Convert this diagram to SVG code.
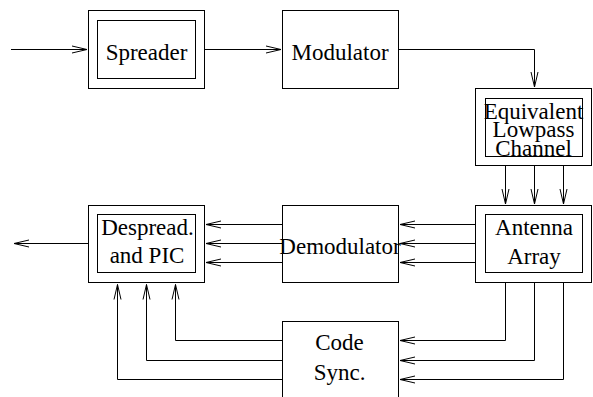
<svg xmlns="http://www.w3.org/2000/svg" width="593" height="397" viewBox="0 0 593 397">
<defs>
<style>
.box{fill:#fff;stroke:#000;stroke-width:1}
.lbl{font-family:"Liberation Serif","Times New Roman",Tinos,"DejaVu Serif",serif;font-size:23px;fill:#000;text-anchor:middle}
.cn{fill:none;stroke:#000;stroke-width:1}
</style>
<marker id="ah" markerUnits="userSpaceOnUse" markerWidth="18" markerHeight="10" viewBox="0 0 18 10" refX="16" refY="5" orient="auto">
<path d="M1,1.5 L16,5 L1,8.5" fill="none" stroke="#000" stroke-width="1"/>
</marker>
</defs>
<rect width="593" height="397" fill="#fff"/>
<g id="spreader">
<rect class="box" x="88.5" y="10.5" width="116" height="78"/>
<rect class="box" x="97.5" y="20.5" width="98" height="58"/>
<text class="lbl" font-family="Liberation Serif, serif" x="146.5" y="59.5">Spreader</text>
</g>
<g id="modulator">
<rect class="box" x="282.5" y="10.5" width="116" height="78"/>
<text class="lbl" font-family="Liberation Serif, serif" x="340" y="59.5">Modulator</text>
</g>
<g id="channel">
<rect class="box" x="475.5" y="88.5" width="116" height="77"/>
<rect class="box" x="485.5" y="98.5" width="97" height="58"/>
<text class="lbl" font-family="Liberation Serif, serif" x="533.5" y="118.5">Equivalent</text>
<text class="lbl" font-family="Liberation Serif, serif" x="533.5" y="137">Lowpass</text>
<text class="lbl" font-family="Liberation Serif, serif" x="533.5" y="155.5">Channel</text>
</g>
<g id="antenna">
<rect class="box" x="475.5" y="205.5" width="116" height="77"/>
<rect class="box" x="485.5" y="214.5" width="97" height="58"/>
<text class="lbl" font-family="Liberation Serif, serif" x="534" y="234.5">Antenna</text>
<text class="lbl" font-family="Liberation Serif, serif" x="534" y="263.5">Array</text>
</g>
<g id="demodulator">
<rect class="box" x="282.5" y="205.5" width="116" height="77"/>
<text class="lbl" font-family="Liberation Serif, serif" x="340" y="254">Demodulator</text>
</g>
<g id="despreader">
<rect class="box" x="88.5" y="205.5" width="116" height="77"/>
<rect class="box" x="97.5" y="214.5" width="98" height="58"/>
<text class="lbl" font-family="Liberation Serif, serif" x="147.5" y="235">Despread.</text>
<text class="lbl" font-family="Liberation Serif, serif" x="147" y="263">and PIC</text>
</g>
<g id="codesync">
<rect class="box" x="282.5" y="321.5" width="116" height="90"/>
<text class="lbl" font-family="Liberation Serif, serif" x="339.5" y="350">Code</text>
<text class="lbl" font-family="Liberation Serif, serif" x="339.5" y="380">Sync.</text>
</g>
<g id="connectors">
<path class="cn" marker-end="url(#ah)" d="M11,49.5 H87"/>
<path class="cn" marker-end="url(#ah)" d="M204.5,49.5 H281"/>
<path class="cn" marker-end="url(#ah)" d="M398.5,49.5 H534.5 V87"/>
<path class="cn" marker-end="url(#ah)" d="M505.5,165.5 V204"/>
<path class="cn" marker-end="url(#ah)" d="M534.5,165.5 V204"/>
<path class="cn" marker-end="url(#ah)" d="M563.5,165.5 V204"/>
<path class="cn" marker-end="url(#ah)" d="M475.5,224.5 H400"/>
<path class="cn" marker-end="url(#ah)" d="M475.5,243.5 H400"/>
<path class="cn" marker-end="url(#ah)" d="M475.5,262.5 H400"/>
<path class="cn" marker-end="url(#ah)" d="M282.5,224.5 H206"/>
<path class="cn" marker-end="url(#ah)" d="M282.5,243.5 H206"/>
<path class="cn" marker-end="url(#ah)" d="M282.5,262.5 H206"/>
<path class="cn" marker-end="url(#ah)" d="M88.5,243.5 H14"/>
<path class="cn" marker-end="url(#ah)" d="M505.5,282.5 V340.5 H400"/>
<path class="cn" marker-end="url(#ah)" d="M534.5,282.5 V360.5 H400"/>
<path class="cn" marker-end="url(#ah)" d="M563.5,282.5 V379.5 H400"/>
<path class="cn" marker-end="url(#ah)" d="M282.5,340.5 H175.5 V284.5"/>
<path class="cn" marker-end="url(#ah)" d="M282.5,360.5 H146.5 V284.5"/>
<path class="cn" marker-end="url(#ah)" d="M282.5,379.5 H117.5 V284.5"/>
</g>
</svg>
